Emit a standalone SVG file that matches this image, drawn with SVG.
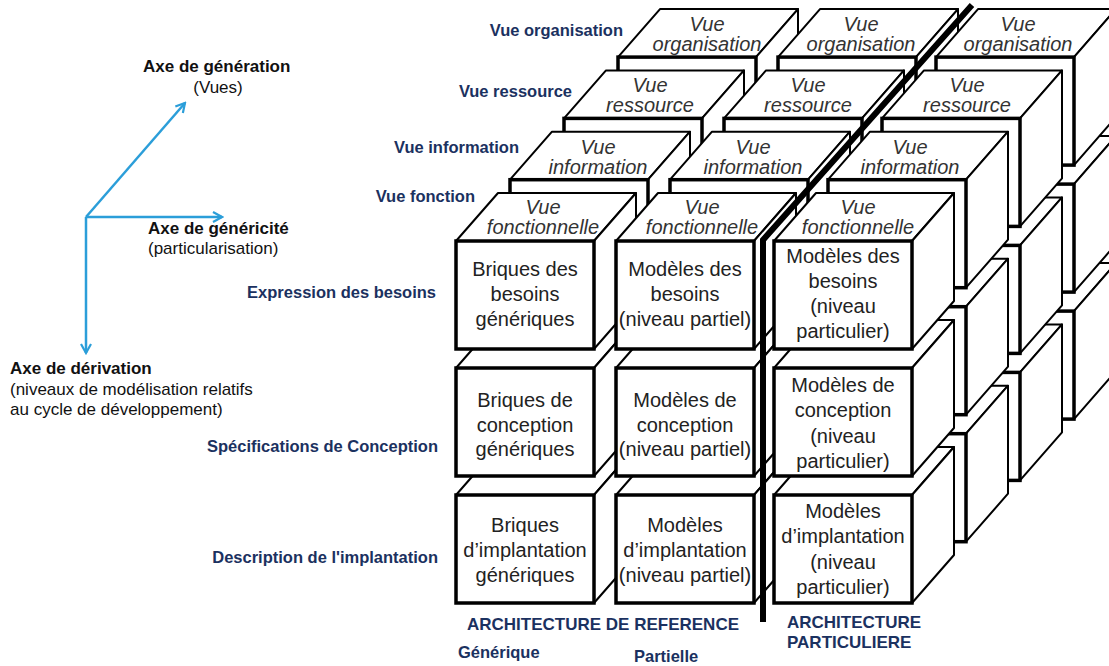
<svg xmlns="http://www.w3.org/2000/svg" width="1109" height="666" viewBox="0 0 1109 666">
<style>
.lbl{font-family:"Liberation Sans",Arial,sans-serif;font-weight:bold;font-size:16.5px;fill:#1b3160}
.lblb{font-family:"Liberation Sans",Arial,sans-serif;font-weight:bold;font-size:17px;fill:#1b3160}
.ax{font-family:"Liberation Sans",Arial,sans-serif;font-size:17px;fill:#111}
.axb{font-weight:bold}
.top{font-family:"Liberation Sans",Arial,sans-serif;font-style:italic;font-size:20px;fill:#333;text-anchor:middle}
.fr{font-family:"Liberation Sans",Arial,sans-serif;font-size:20px;fill:#222;text-anchor:middle}
.face{fill:#fff;stroke:#000;stroke-width:2;stroke-linejoin:round}
.front{fill:#fff;stroke:#000;stroke-width:3.5}
.axis{stroke:#2b9ed9;stroke-width:2.5;fill:none}
</style>
<defs>
<g id="cube">
<polygon class="face" points="0,0 42,-48 180,-48 138,0"/>
<polygon class="face" points="138,0 180,-48 180,60 138,108"/>
<rect class="front" x="0" y="0" width="138" height="108"/>
</g>
<marker id="arr" viewBox="0 0 12 12" refX="10" refY="6" markerWidth="12" markerHeight="12" markerUnits="userSpaceOnUse" orient="auto">
<path d="M1,1 L10,6 L1,11" fill="none" stroke="#2b9ed9" stroke-width="2.2"/>
</marker>
</defs>
<rect width="1109" height="666" fill="#fff"/>

<!-- Layer: organisation -->
<g id="org-c1-r3"><use href="#cube" x="618" y="311.1"/></g>
<g id="org-c1-r2"><use href="#cube" x="618" y="184.1"/></g>
<g id="org-c1-r1"><use href="#cube" x="618" y="57.1"/><text class="top" x="707" y="31">Vue</text><text class="top" x="707" y="51">organisation</text></g>
<g id="org-c2-r3"><use href="#cube" x="778" y="311.1"/></g>
<g id="org-c2-r2"><use href="#cube" x="778" y="184.1"/></g>
<g id="org-c2-r1"><use href="#cube" x="778" y="57.1"/><text class="top" x="861" y="31">Vue</text><text class="top" x="861" y="51">organisation</text></g>
<g id="org-c3-r3"><use href="#cube" x="936" y="311.1"/></g>
<g id="org-c3-r2"><use href="#cube" x="936" y="184.1"/></g>
<g id="org-c3-r1"><use href="#cube" x="936" y="57.1"/><text class="top" x="1018" y="31">Vue</text><text class="top" x="1018" y="51">organisation</text></g>

<!-- Layer: ressource -->
<g id="res-c1-r3"><use href="#cube" x="564" y="372.4"/></g>
<g id="res-c1-r2"><use href="#cube" x="564" y="245.4"/></g>
<g id="res-c1-r1"><use href="#cube" x="564" y="118.4"/><text class="top" x="650" y="92">Vue</text><text class="top" x="650" y="112">ressource</text></g>
<g id="res-c2-r3"><use href="#cube" x="724" y="372.4"/></g>
<g id="res-c2-r2"><use href="#cube" x="724" y="245.4"/></g>
<g id="res-c2-r1"><use href="#cube" x="724" y="118.4"/><text class="top" x="808" y="92">Vue</text><text class="top" x="808" y="112">ressource</text></g>
<g id="res-c3-r3"><use href="#cube" x="882" y="372.4"/></g>
<g id="res-c3-r2"><use href="#cube" x="882" y="245.4"/></g>
<g id="res-c3-r1"><use href="#cube" x="882" y="118.4"/><text class="top" x="967" y="92">Vue</text><text class="top" x="967" y="112">ressource</text></g>

<!-- Layer: information -->
<g id="inf-c1-r3"><use href="#cube" x="510" y="433.7"/></g>
<g id="inf-c1-r2"><use href="#cube" x="510" y="306.7"/></g>
<g id="inf-c1-r1"><use href="#cube" x="510" y="179.7"/><text class="top" x="598" y="154">Vue</text><text class="top" x="598" y="174">information</text></g>
<g id="inf-c2-r3"><use href="#cube" x="670" y="433.7"/></g>
<g id="inf-c2-r2"><use href="#cube" x="670" y="306.7"/></g>
<g id="inf-c2-r1"><use href="#cube" x="670" y="179.7"/><text class="top" x="753" y="154">Vue</text><text class="top" x="753" y="174">information</text></g>
<g id="inf-c3-r3"><use href="#cube" x="828" y="433.7"/></g>
<g id="inf-c3-r2"><use href="#cube" x="828" y="306.7"/></g>
<g id="inf-c3-r1"><use href="#cube" x="828" y="179.7"/><text class="top" x="910" y="154">Vue</text><text class="top" x="910" y="174">information</text></g>

<!-- Layer: fonction (front) -->
<g id="fct-c1-r3"><use href="#cube" x="456" y="495"/><text class="fr" x="525" y="532">Briques</text><text class="fr" x="525" y="557">d’implantation</text><text class="fr" x="525" y="582">génériques</text></g>
<g id="fct-c1-r2"><use href="#cube" x="456" y="368"/><text class="fr" x="525" y="407">Briques de</text><text class="fr" x="525" y="432">conception</text><text class="fr" x="525" y="456">génériques</text></g>
<g id="fct-c1-r1"><use href="#cube" x="456" y="241"/><text class="top" x="543" y="214">Vue</text><text class="top" x="543" y="234">fonctionnelle</text><text class="fr" x="525" y="276">Briques des</text><text class="fr" x="525" y="301">besoins</text><text class="fr" x="525" y="326">génériques</text></g>
<g id="fct-c2-r3"><use href="#cube" x="616" y="495"/><text class="fr" x="685" y="532">Modèles</text><text class="fr" x="685" y="557">d’implantation</text><text class="fr" x="685" y="582">(niveau partiel)</text></g>
<g id="fct-c2-r2"><use href="#cube" x="616" y="368"/><text class="fr" x="685" y="407">Modèles de</text><text class="fr" x="685" y="432">conception</text><text class="fr" x="685" y="456">(niveau partiel)</text></g>
<g id="fct-c2-r1"><use href="#cube" x="616" y="241"/><text class="top" x="702" y="214">Vue</text><text class="top" x="702" y="234">fonctionnelle</text><text class="fr" x="685" y="276">Modèles des</text><text class="fr" x="685" y="301">besoins</text><text class="fr" x="685" y="326">(niveau partiel)</text></g>
<g id="fct-c3-r3"><use href="#cube" x="774" y="495"/><text class="fr" x="843" y="518">Modèles</text><text class="fr" x="843" y="543">d’implantation</text><text class="fr" x="843" y="569">(niveau</text><text class="fr" x="843" y="594">particulier)</text></g>
<g id="fct-c3-r2"><use href="#cube" x="774" y="368"/><text class="fr" x="843" y="392">Modèles de</text><text class="fr" x="843" y="417">conception</text><text class="fr" x="843" y="443">(niveau</text><text class="fr" x="843" y="468">particulier)</text></g>
<g id="fct-c3-r1"><use href="#cube" x="774" y="241"/><text class="top" x="858" y="214">Vue</text><text class="top" x="858" y="234">fonctionnelle</text><text class="fr" x="843" y="263">Modèles des</text><text class="fr" x="843" y="288">besoins</text><text class="fr" x="843" y="313">(niveau</text><text class="fr" x="843" y="338">particulier)</text></g>

<!-- Separator -->
<g id="separator">
<polyline points="763,622 763,240 972,5" fill="none" stroke="#000" stroke-width="6" stroke-linejoin="miter"/>
</g>

<!-- Axes -->
<g id="connectors">
<line class="axis" x1="86" y1="217" x2="185" y2="103" marker-end="url(#arr)"/>
<line class="axis" x1="86" y1="217" x2="222" y2="217" marker-end="url(#arr)"/>
<line class="axis" x1="86" y1="217" x2="86" y2="353" marker-end="url(#arr)"/>
</g>

<!-- Axis labels -->
<g id="axis-generation"><text class="ax axb" x="143" y="72">Axe de génération</text><text class="ax" x="218" y="93" text-anchor="middle">(Vues)</text></g>
<g id="axis-genericite"><text class="ax axb" x="148" y="234">Axe de généricité</text><text class="ax" x="148" y="254">(particularisation)</text></g>
<g id="axis-derivation"><text class="ax axb" x="10" y="374">Axe de dérivation</text><text class="ax" x="10" y="395">(niveaux de modélisation relatifs</text><text class="ax" x="10" y="415">au cycle de développement)</text></g>

<!-- View / level labels -->
<g id="labels">
<text class="lbl" x="623" y="36" text-anchor="end">Vue organisation</text>
<text class="lbl" x="572" y="97" text-anchor="end">Vue ressource</text>
<text class="lbl" x="519" y="153" text-anchor="end">Vue information</text>
<text class="lbl" x="475" y="202" text-anchor="end">Vue fonction</text>
<text class="lbl" x="436" y="298" text-anchor="end">Expression des besoins</text>
<text class="lbl" x="438" y="452" text-anchor="end">Spécifications de Conception</text>
<text class="lbl" x="438" y="563" text-anchor="end">Description de l'implantation</text>
<text class="lblb" x="467" y="630">ARCHITECTURE DE REFERENCE</text>
<text class="lbl" x="458" y="658">Générique</text>
<text class="lbl" x="634" y="662">Partielle</text>
<text class="lblb" x="787" y="628">ARCHITECTURE</text>
<text class="lblb" x="787" y="648">PARTICULIERE</text>
</g>
</svg>
